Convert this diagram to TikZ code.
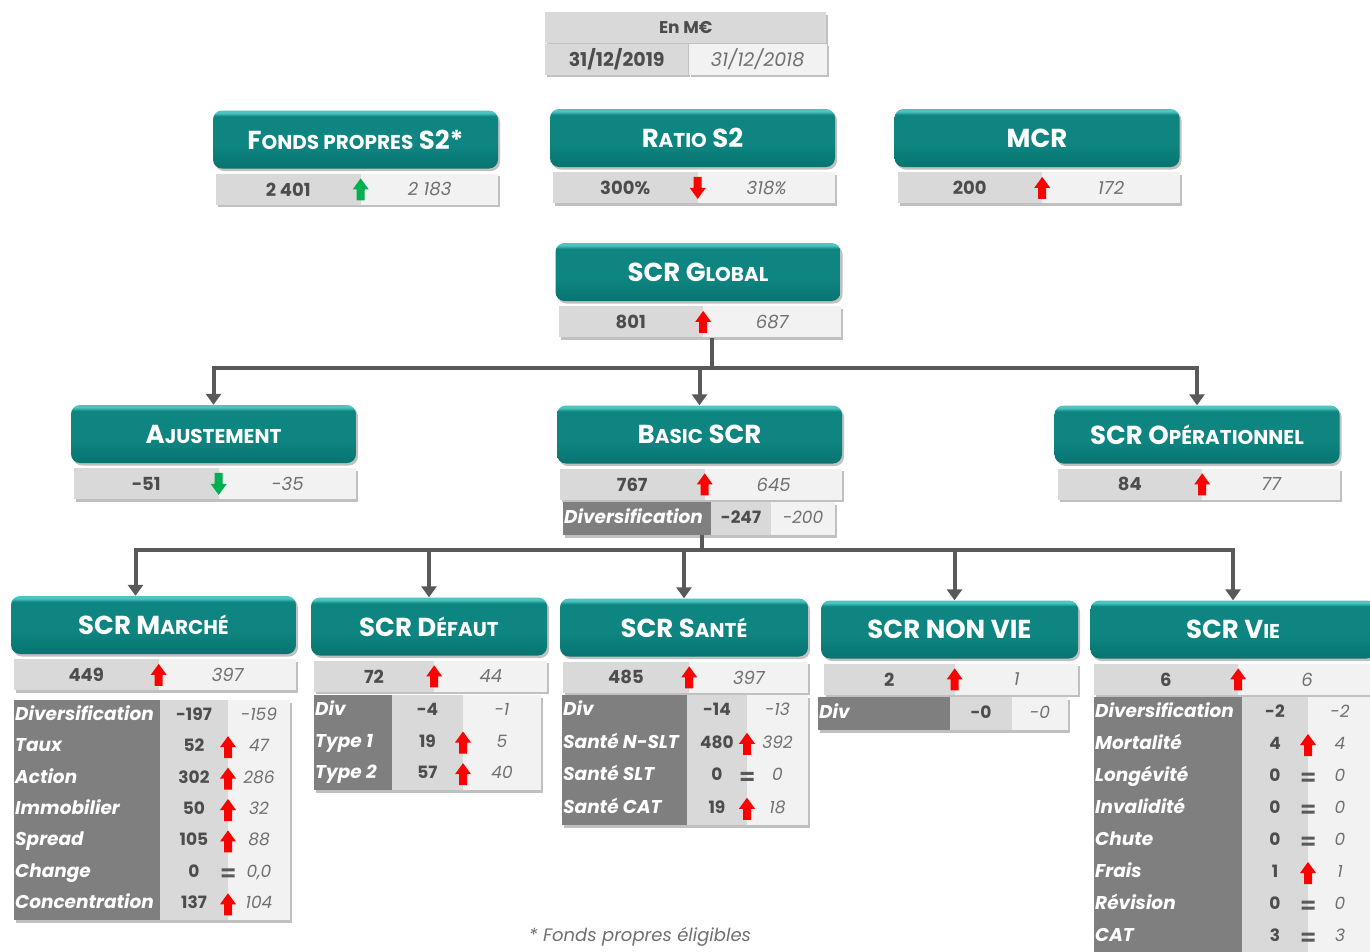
\documentclass[tikz,border=0pt]{standalone}
\usepackage{fontspec}
\setmainfont{Poppins}
\usetikzlibrary{arrows.meta,positioning,shadows}

\definecolor{tealdk}{HTML}{077470}
\definecolor{tealmd}{HTML}{0E8581}
\definecolor{teallt}{HTML}{4CC4BF}
\definecolor{cellgrey}{HTML}{D9D9D9}
\definecolor{lightcell}{HTML}{F2F2F2}
\definecolor{labgrey}{HTML}{7F7F7F}
\definecolor{valtxt}{HTML}{4D4D4D}
\definecolor{prevtxt}{HTML}{707070}
\definecolor{connc}{HTML}{595959}
\definecolor{arrred}{HTML}{FF0000}
\definecolor{arrgreen}{HTML}{00B050}

\pgfdeclareverticalshading{tealbox}{100bp}{color(0bp)=(tealdk); color(25bp)=(tealdk);
  color(45bp)=(tealmd); color(70bp)=(tealmd); color(73bp)=(teallt); color(100bp)=(teallt)}

\newcommand\titlefont{\bfseries\fontsize{26}{30}\selectfont}
\newcommand\lowcap[1]{{\fontsize{20}{24}\selectfont #1}}

\tikzset{
  sh/.style={drop shadow={shadow xshift=2pt, shadow yshift=-2.5pt, opacity=.35, fill=black!70}},
  titlebox/.style={rounded corners=9pt, shading=tealbox, minimum height=58pt,
    text=white, font=\titlefont, sh},
  curcell/.style={fill=cellgrey, minimum height=31pt, inner sep=0pt, text=valtxt,
    font=\bfseries\fontsize{18}{20}\selectfont, sh},
  prevcell/.style={fill=lightcell, minimum height=31pt, inner sep=0pt, text=prevtxt,
    font=\itshape\fontsize{18}{20}\selectfont, sh},
  tabbg/.style={fill=lightcell, inner sep=0pt, anchor=north west, sh},
  tablab/.style={text=white, anchor=west, inner sep=1pt, text height=12pt, text depth=3pt,
    font=\bfseries\itshape\fontsize{18.5}{20}\selectfont},
  tabcur/.style={text=valtxt, inner sep=0pt, text height=12pt, text depth=3pt,
    font=\bfseries\fontsize{17}{20}\selectfont},
  tabprev/.style={text=prevtxt, inner sep=0pt, text height=12pt, text depth=3pt,
    font=\itshape\fontsize{17}{20}\selectfont},
  conn/.style={line width=4pt, draw=connc},
  arr/.style={-{Triangle[length=11pt,width=15pt]}},
  pics/upr/.style={code={\fill[arrred] (-4,11) -- (-4,0) -- (-8,0) -- (0,-11) -- (8,0) -- (4,0) -- (4,11) -- cycle;}},
  pics/upg/.style={code={\fill[arrgreen] (-4,11) -- (-4,0) -- (-8,0) -- (0,-11) -- (8,0) -- (4,0) -- (4,11) -- cycle;}},
  pics/dnr/.style={code={\fill[arrred] (-4,-11) -- (-4,0) -- (-8,0) -- (0,11) -- (8,0) -- (4,0) -- (4,-11) -- cycle;}},
  pics/dng/.style={code={\fill[arrgreen] (-4,-11) -- (-4,0) -- (-8,0) -- (0,11) -- (8,0) -- (4,0) -- (4,-11) -- cycle;}},
  pics/eq/.style={code={\fill[connc] (-6.5,-4.5) rectangle (6.5,-1.5) (-6.5,1.5) rectangle (6.5,4.5);}},
  pics/none/.style={code={}}
}

% title box with its value bar
\newcommand\kpi[7]{%
  \node[titlebox, minimum width=#3] (#1) at (#2) {#4};
  \node[curcell, minimum width=#3/2+2, anchor=north west] (#1c) at ([shift={(3,5)}]#1.south west) {#5};
  \node[prevcell, minimum width=#3/2-5, anchor=west] (#1p) at (#1c.east) {#7};
  \pic at (#1c.east) {#6};
}

% detail table: name, x0, x1, x2, x3, top, bottom, rows, list
\newcommand\subtab[9]{%
  \node[tabbg, minimum width=#5-#2, minimum height=#7-#6] (#1) at (#2,#6) {};
  \fill[labgrey] (#2,#6) rectangle (#3,#7);
  \fill[cellgrey] (#3,#6) rectangle (#4,#7);
  \foreach \lab/\cur/\sym/\prev [count=\i] in {#9} {
    \pgfmathsetmacro\ry{#6+(#7-#6)/#8*(\i-0.5)}
    \node[tablab] (#1l\i) at (#2,\ry) {\lab};
    \node[tabcur] (#1c\i) at ({(#3+#4)/2},\ry) {\cur};
    \node[tabprev] (#1p\i) at ({(#4+#5)/2},\ry) {\prev};
    \pic at (#4,\ry) {\sym};
  }
}

\begin{document}
\begin{tikzpicture}[x=1pt, y=-1pt]
  \useasboundingbox (0,0) rectangle (1370,951);
  \fill[white] (0,0) rectangle (1370,951);

  % unit and dates
  \node[curcell, minimum width=281, font=\bfseries\fontsize{17}{20}\selectfont, anchor=north west] (unit) at (545,12) {En M€};
  \node[curcell, minimum width=143, font=\bfseries\fontsize{19}{20}\selectfont, anchor=north west] (datec) at (unit.south west) {31/12/2019};
  \node[prevcell, minimum width=138, font=\itshape\fontsize{19}{20}\selectfont, anchor=west] (datep) at (datec.east) {31/12/2018};

  % boxes
  \kpi{fonds}{355.5,139.5}{285}{F\lowcap{ONDS PROPRES} S2*}{2 401}{upg}{2 183}
  \kpi{ratio}{692.5,138}{285}{R\lowcap{ATIO} S2}{300\%}{dnr}{318\%}
  \kpi{mcr}{1037,138}{285}{MCR}{200}{upr}{172}
  \kpi{glob}{698,272}{285}{SCR G\lowcap{LOBAL}}{801}{upr}{687}
  \kpi{ajust}{213.5,434}{285}{A\lowcap{JUSTEMENT}}{-51}{dng}{-35}
  \kpi{basic}{699.5,434.5}{285}{B\lowcap{ASIC} SCR}{767}{upr}{645}
  \kpi{ope}{1197,434.5}{285}{SCR O\lowcap{PÉRATIONNEL}}{84}{upr}{77}
  \kpi{marche}{153.5,625}{285}{SCR M\lowcap{ARCHÉ}}{449}{upr}{397}
  \kpi{defaut}{429,626.5}{236}{SCR D\lowcap{ÉFAUT}}{72}{upr}{44}
  \kpi{sante}{684,627.5}{248}{SCR S\lowcap{ANTÉ}}{485}{upr}{397}
  \kpi{nonvie}{949.5,629.5}{257}{SCR NON VIE}{2}{upr}{1}
  \kpi{vie}{1233,629.5}{285}{SCR V\lowcap{IE}}{6}{upr}{6}

  % tables
  \subtab{bdiv}{563}{711}{771}{835}{502}{535}{1}{Diversification/-247/none/-200}
  \subtab{mtab}{14}{160}{228}{290}{700}{920}{7}{Diversification/-197/none/-159, Taux/52/upr/47,
    Action/302/upr/286, Immobilier/50/upr/32, Spread/105/upr/88, Change/0/eq/{0,0}, Concentration/137/upr/104}
  \subtab{dtab}{314}{392}{463}{541}{695}{790}{3}{Div/-4/none/-1, Type 1/19/upr/5, Type 2/57/upr/40}
  \subtab{stab}{562}{687}{747}{808}{695}{825}{4}{Div/-14/none/-13, Santé N-SLT/480/upr/392,
    Santé SLT/0/eq/0, Santé CAT/19/upr/18}
  \subtab{ntab}{818}{950}{1012}{1068}{697}{730}{1}{Div/-0/none/-0}
  \subtab{vtab}{1094}{1242}{1308}{1372}{697}{953}{8}{Diversification/-2/none/-2, Mortalité/4/upr/4,
    Longévité/0/eq/0, Invalidité/0/eq/0, Chute/0/eq/0, Frais/1/upr/1, Révision/0/eq/0, CAT/3/eq/3}

  % connectors
  \coordinate (hub1) at (712,368);
  \draw[conn] (hub1 |- globc.south) -- (hub1);
  \draw[conn, arr] (hub1) -| (ajust.north);
  \draw[conn, arr] (hub1) -| (ope.north);
  \draw[conn, arr] (hub1 -| basic.north) -- (basic.north);

  \coordinate (hub2) at (702,550);
  \coordinate (mktop) at ([xshift=-18pt]marche.north);
  \coordinate (nvtop) at ([xshift=5pt]nonvie.north);
  \draw[conn] (hub2 |- bdiv.south) -- (hub2);
  \draw[conn, arr] (hub2) -| (mktop);
  \draw[conn, arr] (hub2) -| (vie.north);
  \draw[conn, arr] (hub2 -| defaut.north) -- (defaut.north);
  \draw[conn, arr] (hub2 -| sante.north) -- (sante.north);
  \draw[conn, arr] (hub2 -| nvtop) -- (nvtop);

  \node[text=prevtxt, font=\itshape\fontsize{18}{20}\selectfont] (note) at (640,937) {* Fonds propres éligibles};
\end{tikzpicture}
\end{document}
